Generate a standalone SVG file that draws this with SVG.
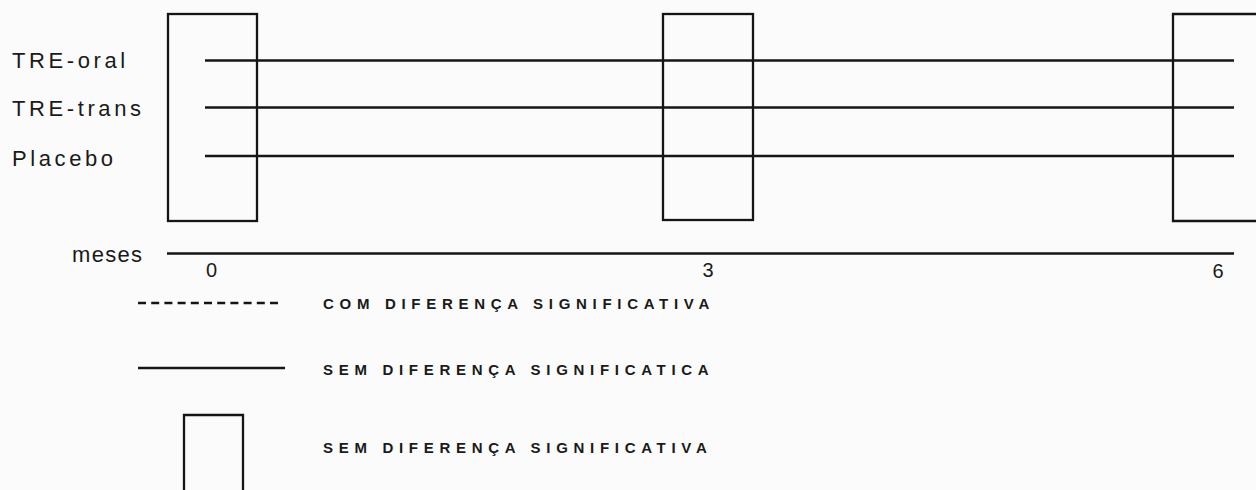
<svg xmlns="http://www.w3.org/2000/svg" width="1256" height="490" viewBox="0 0 1256 490">
  <style>
    .ln { stroke: #151515; stroke-width: 2.3; fill: none; }
    .lbl { font-family: "Liberation Sans", Arial, sans-serif; font-size: 22px; letter-spacing: 3.6px; fill: #1a1a1a; }
    .num { font-family: "Liberation Sans", Arial, sans-serif; font-size: 20px; fill: #1a1a1a; text-anchor: middle; }
    .leg { font-family: "Liberation Sans", Arial, sans-serif; font-size: 15px; font-weight: bold; letter-spacing: 5.7px; fill: #1a1a1a; }
  </style>
  <rect width="1256" height="490" fill="#fbfbfb"/>

  <g id="boxes">
    <g id="box-0"><rect class="ln" x="168" y="14" width="89" height="207"/></g>
    <g id="box-3"><rect class="ln" x="663" y="14" width="90" height="206"/></g>
    <g id="box-6"><path class="ln" d="M1258 14 H1173 V221 H1258"/></g>
  </g>

  <g id="labels">
    <text class="lbl" x="12" y="68">TRE-oral</text>
    <text class="lbl" x="12" y="116">TRE-trans</text>
    <text class="lbl" x="12" y="166">Placebo</text>
  </g>

  <g id="connectors">
    <line class="ln" x1="205" y1="60.5" x2="1234" y2="60.5"/>
    <line class="ln" x1="205" y1="107.5" x2="1234" y2="107.5"/>
    <line class="ln" x1="205" y1="156" x2="1234" y2="156"/>
  </g>

  <g id="axis">
    <text class="lbl" x="72" y="262" style="letter-spacing:1.3px">meses</text>
    <line class="ln" x1="167" y1="253.5" x2="1234" y2="253.5"/>
    <text class="num" x="211.5" y="277">0</text>
    <text class="num" x="708" y="277">3</text>
    <text class="num" x="1218" y="278">6</text>
  </g>

  <g id="legend">
    <g id="legend-dashed">
      <line class="ln" x1="138" y1="303" x2="278" y2="303" stroke-dasharray="8 5.2"/>
      <text class="leg" x="323" y="309">COM DIFERENÇA SIGNIFICATIVA</text>
    </g>
    <g id="legend-solid">
      <line class="ln" x1="138" y1="368" x2="285" y2="368"/>
      <text class="leg" x="323" y="375">SEM DIFERENÇA SIGNIFICATICA</text>
    </g>
    <g id="legend-box">
      <path class="ln" d="M184 492 V415 H243 V492"/>
      <text class="leg" x="323" y="453">SEM DIFERENÇA SIGNIFICATIVA</text>
    </g>
  </g>
</svg>
